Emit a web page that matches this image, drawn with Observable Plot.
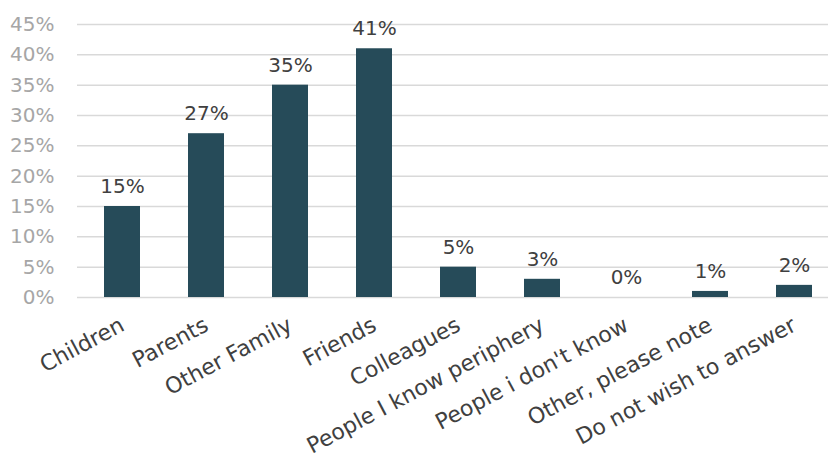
<!DOCTYPE html>
<html>
<head>
<meta charset="utf-8">
<script src="https://cdn.jsdelivr.net/npm/d3@7"></script>
<script src="https://cdn.jsdelivr.net/npm/@observablehq/plot@0.6"></script>
<style>
  html, body { margin: 0; padding: 0; background: #ffffff; }
  #chart { width: 828px; height: 461px; }
</style>
</head>
<body>
<div id="chart"></div>
<script>
const categories = ["Children", "Parents", "Other Family", "Friends", "Colleagues", "People I know periphery", "People i don't know", "Other, please note", "Do not wish to answer"];
const values = [0.15, 0.27, 0.35, 0.41, 0.05, 0.03, 0.00, 0.01, 0.02];
const yTicks = [0, 0.05, 0.10, 0.15, 0.20, 0.25, 0.30, 0.35, 0.40, 0.45];

const data = categories.map((c, i) => ({category: c, value: values[i]}));
const pct = d3.format(".0%");

const chart = Plot.plot({
  width: 828,
  height: 461,
  marginLeft: 77,
  marginRight: 0,
  marginTop: 24,
  marginBottom: 164,
  style: {fontFamily: "'DejaVu Sans', sans-serif", background: "#ffffff"},
  x: {domain: categories, range: [76.65, 838.95], paddingInner: 0.575, paddingOuter: 0.2875},
  y: {domain: [0, 0.45]},
  marks: [
    Plot.ruleY(yTicks, {stroke: "#d9d9d9", strokeWidth: 1.5}),
    Plot.axisY({ticks: yTicks, tickFormat: pct, tickSize: 0, tickPadding: 23, fontSize: 20, fill: "#a6a6a6", label: null}),
    Plot.barY(data, {x: "category", y: "value", fill: "#264b59"}),
    Plot.text(data, {x: "category", y: "value", text: d => pct(d.value), dy: -20, fontSize: 20, fill: "#404040"}),
    Plot.axisX({tickSize: 0, tickPadding: 26, tickRotate: -28, fontSize: 22, fill: "#404040", label: null})
  ]
});
document.getElementById("chart").appendChild(chart);
</script>
</body>
</html>
